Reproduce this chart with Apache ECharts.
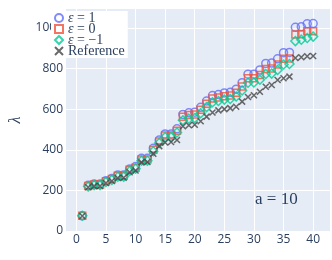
<!DOCTYPE html>
<html>
<head>
<meta charset="utf-8">
<script src="https://cdn.jsdelivr.net/npm/echarts@6/dist/echarts.min.js"></script>
<style>
  html, body { margin: 0; padding: 0; background: #fff; }
  #chart { width: 332px; height: 260px; }
</style>
</head>
<body>
<div id="chart"></div>
<script>
const nValues = [1,2,3,4,5,6,7,8,9,10,11,12,13,14,15,16,17,18,19,20,21,22,23,24,25,26,27,28,29,30,31,32,33,34,35,36,37,38,39,40];
const epsPlus1 = [75,225,232,232,248,259,276,276,305,317,358,358,407,448,478,478,503,574,582,585,609,640,667,672,680,683,698,730,772,772,793,825,827,848,878,879,1003,1005,1020,1021];
const epsZero = [75,222,229,229,245,256,272,272,301,312,352,352,400,441,470,470,494,563,571,574,597,627,652,657,664,667,681,712,752,752,768,798,800,820,848,849,967,969,983,984];
const epsMinus1 = [75,219,226,226,241,252,267,267,296,307,346,346,393,433,462,462,485,545,553,556,580,610,634,640,647,650,662,692,730,731,745,773,775,793,820,822,935,942,950,957];
const referenceVals = [74,215,221,222,236,246,261,262,289,298,338,340,380,418,436,438,448,516,521,523,540,563,583,594,600,605,612,637,660,668,686,710,719,743,752,760,852,855,860,862];
const xTicks = [0,5,10,15,20,25,30,35,40];
const yTicks = [0,200,400,600,800,1000];
const xMin = -1.75, xMax = 42.85, yMax = 1093;
const seriesNames = ['ε = 1', 'ε = 0', 'ε = −1', 'Reference'];
const annotationText = 'a = 10';

const pairs = arr => nValues.map((n, i) => [n, arr[i]]);
const txt = '#2a3f5f';

const chart = echarts.init(document.getElementById('chart'), null, { renderer: 'canvas' });
const mk = (name, data, symbol, color, size) => ({
  name, type: 'scatter', data: pairs(data), symbol, symbolSize: size,
  itemStyle: { color: 'transparent', borderColor: color, borderWidth: 1.5 },
  emphasis: { disabled: true }
});
chart.setOption({
  animation: false,
  grid: { left: 49, right: 2, top: 9, bottom: 29, show: true, backgroundColor: '#E5ECF6', borderWidth: 0 },
  xAxis: {
    type: 'value', min: xMin, max: xMax,
    axisLine: { show: false }, axisTick: { show: false, customValues: xTicks },
    splitLine: { show: true, lineStyle: { color: '#fff', width: 1 } },
    axisLabel: { customValues: xTicks, color: txt, fontFamily: 'Open Sans', fontSize: 12, margin: 3 }
  },
  yAxis: {
    type: 'value', min: 0, max: yMax,
    name: 'λ', nameLocation: 'middle', nameGap: 42, nameRotate: 90,
    nameTextStyle: { color: txt, fontFamily: 'Liberation Serif', fontStyle: 'italic', fontSize: 16 },
    axisLine: { show: false }, axisTick: { show: false, customValues: yTicks },
    splitLine: { show: true, lineStyle: { color: '#fff', width: 1 } },
    axisLabel: { show: false, customValues: yTicks }
  },
  legend: {
    orient: 'vertical', left: 51, top: 11, padding: [0, 3, 0, 3],
    backgroundColor: '#fff', itemGap: -3, itemWidth: 8, itemHeight: 8,
    data: seriesNames,
    formatter: name => name.charAt(0) === 'ε' ? '{i|ε}{t|' + name.slice(1) + '}' : '{t|' + name + '}',
    textStyle: {
      color: txt, fontFamily: 'Liberation Serif', fontSize: 14,
      rich: {
        i: { fontFamily: 'Liberation Serif', fontStyle: 'italic', fontSize: 14, color: txt },
        t: { fontFamily: 'Liberation Serif', fontSize: 14, color: txt }
      }
    }
  },
  series: [
    mk(seriesNames[0], epsPlus1, 'circle', '#636EFA', 8),
    mk(seriesNames[1], epsZero, 'rect', '#EF553B', 7),
    mk(seriesNames[2], epsMinus1, 'diamond', '#00CC96', 9),
    mk(seriesNames[3], referenceVals, 'path://M0,0L10,10M10,0L0,10', '#444444', 6)
  ]
});

// y tick labels placed through the library's own scale
const axisLeftPx = chart.convertToPixel({ xAxisIndex: 0 }, xMin);
const yLabelGraphics = yTicks.map(v => ({
  type: 'text', z: 1,
  x: axisLeftPx - 3,
  y: chart.convertToPixel({ yAxisIndex: 0 }, v),
  style: { text: String(v), fill: txt, font: '12px "Open Sans"', align: 'right', verticalAlign: 'middle' }
}));
chart.setOption({
  graphic: yLabelGraphics.concat([{
    type: 'text', left: 255, top: 191,
    style: { text: annotationText, fill: txt, font: '17px "Liberation Serif"' }
  }])
});
</script>
</body>
</html>
